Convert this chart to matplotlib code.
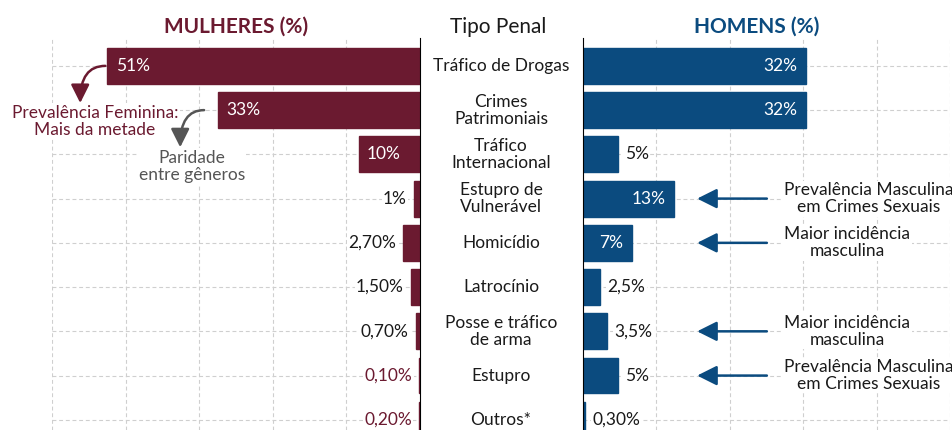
import matplotlib.pyplot as plt
import numpy as np
from matplotlib.transforms import blended_transform_factory

plt.rcParams['font.family'] = ['Lato', 'DejaVu Sans']

# dados
categorias = ["Tráfico de Drogas", "Crimes\nPatrimoniais", "Tráfico\nInternacional",
              "Estupro de\nVulnerável", "Homicídio", "Latrocínio",
              "Posse e tráfico\nde arma", "Estupro", "Outros*"]
mulheres = [51, 33, 10, 1, 2.7, 1.5, 0.7, 0.1, 0.2]
mulheres_rot = ["51%", "33%", "10%", "1%", "2,70%", "1,50%", "0,70%", "0,10%", "0,20%"]
homens = [32, 32, 5, 13, 7, 2.5, 3.5, 5, 0.3]
homens_rot = ["32%", "32%", "5%", "13%", "7%", "2,5%", "3,5%", "5%", "0,30%"]

# linhas com destaque (rótulo em vinho) e notas do lado masculino
destaque_mulheres = [7, 8]
notas_linhas = [3, 4, 6, 7]
notas_textos = ["Prevalência Masculina\nem Crimes Sexuais", "Maior incidência\nmasculina",
                "Maior incidência\nmasculina", "Prevalência Masculina\nem Crimes Sexuais"]

VINHO = "#6b1a30"
AZUL = "#0b4b7f"
CINZA = "#555555"
TEXTO = "#1a1a1a"

W, H = 953, 430
fig = plt.figure(figsize=(W / 100, H / 100), dpi=100)
axL = fig.add_axes([52 / W, 0, 368 / W, 392 / H])
axR = fig.add_axes([583 / W, 0, 367 / W, 392 / H])

y = np.arange(len(categorias))
xmaxL = 60
xmaxR = 52.7

for ax, xmax in [(axL, xmaxL), (axR, xmaxR)]:
    ax.set_ylim(8.23, -0.63)
    ax.set_yticks(y)
    ax.set_xticks(np.linspace(0, xmax, 6)[1:])
    ax.tick_params(length=0, labelleft=False, labelbottom=False)
    ax.grid(True, color="#cfcfcf", linestyle=(0, (3.5, 2.5)), linewidth=0.8)
    ax.set_axisbelow(True)
    for s in ax.spines.values():
        s.set_visible(False)

axL.set_xlim(xmaxL, 0)
axR.set_xlim(0, xmaxR)
axL.spines["right"].set_visible(True)
axL.spines["right"].set_color("black")
axR.spines["left"].set_visible(True)
axR.spines["left"].set_color("black")

axL.barh(y, mulheres, height=0.81, color=VINHO, edgecolor=VINHO, linewidth=1)
axR.barh(y, homens, height=0.81, color=AZUL, edgecolor=AZUL, linewidth=1)

fs = 12.5
ls = 1.08
caixa = dict(facecolor="white", edgecolor="none", pad=1)

# rótulos das mulheres
for i, (v, r) in enumerate(zip(mulheres, mulheres_rot)):
    if v >= 6:
        axL.annotate(r, (v, i), xytext=(6, 0), textcoords="offset points",
                     ha="left", va="center", color="white", fontsize=fs)
    else:
        cor = VINHO if i in destaque_mulheres else TEXTO
        axL.annotate(r, (v, i), xytext=(-5, 0), textcoords="offset points",
                     ha="right", va="center", color=cor, fontsize=fs, bbox=caixa)

# rótulos dos homens
for i, (v, r) in enumerate(zip(homens, homens_rot)):
    if v >= 6:
        axR.annotate(r, (v, i), xytext=(-6, 0), textcoords="offset points",
                     ha="right", va="center", color="white", fontsize=fs)
    else:
        axR.annotate(r, (v, i), xytext=(5, 0), textcoords="offset points",
                     ha="left", va="center", color=TEXTO, fontsize=fs, bbox=caixa)

# categorias no meio
trans = blended_transform_factory(fig.transFigure, axL.transData)
for i, c in enumerate(categorias):
    fig.text(501 / W, i, c, transform=trans, ha="center", va="center",
             fontsize=fs, color=TEXTO, linespacing=ls)

# títulos
fig.text(236 / W, 1 - 27 / H, "MULHERES (%)", ha="center", va="center",
         fontsize=15, fontweight="bold", color=VINHO)
fig.text(498 / W, 1 - 27 / H, "Tipo Penal", ha="center", va="center",
         fontsize=15, color=TEXTO)
fig.text(757 / W, 1 - 27 / H, "HOMENS (%)", ha="center", va="center",
         fontsize=15, fontweight="bold", color=AZUL)

# anotações do lado feminino
seta = "-|>,head_length=0.8,head_width=0.4"
axL.annotate("", xy=(55.4, 0.84), xytext=(mulheres[0] + 0.3, 0),
             arrowprops=dict(arrowstyle=seta, color=VINHO,
                             lw=1.8, mutation_scale=14,
                             connectionstyle="angle3,angleA=0,angleB=90",
                             shrinkA=0, shrinkB=0))
axL.text(53, 1.25, "Prevalência Feminina:\nMais da metade", ha="center", va="center",
         fontsize=fs, color=VINHO, linespacing=ls, bbox=caixa)

axL.annotate("", xy=(39.1, 1.84), xytext=(mulheres[1] + 2.2, 1.0),
             arrowprops=dict(arrowstyle=seta, color=CINZA,
                             lw=1.8, mutation_scale=14,
                             connectionstyle="angle3,angleA=0,angleB=90",
                             shrinkA=0, shrinkB=0))
axL.text(37.2, 2.27, "Paridade\nentre gêneros", ha="center", va="center",
         fontsize=fs, color=CINZA, linespacing=ls, bbox=caixa)

# anotações do lado masculino
for i, t in zip(notas_linhas, notas_textos):
    axR.annotate("", xy=(0.311, i), xytext=(0.501, i),
                 xycoords=("axes fraction", "data"),
                 arrowprops=dict(arrowstyle=seta, color=AZUL, lw=1.8,
                                 mutation_scale=15, shrinkA=0, shrinkB=0))
    axR.text(0.548, i, t, transform=blended_transform_factory(axR.transAxes, axR.transData),
             ha="left", va="center", multialignment="center", fontsize=fs,
             color=TEXTO, linespacing=ls, bbox=caixa)

fig.savefig("out.png", dpi=100)
